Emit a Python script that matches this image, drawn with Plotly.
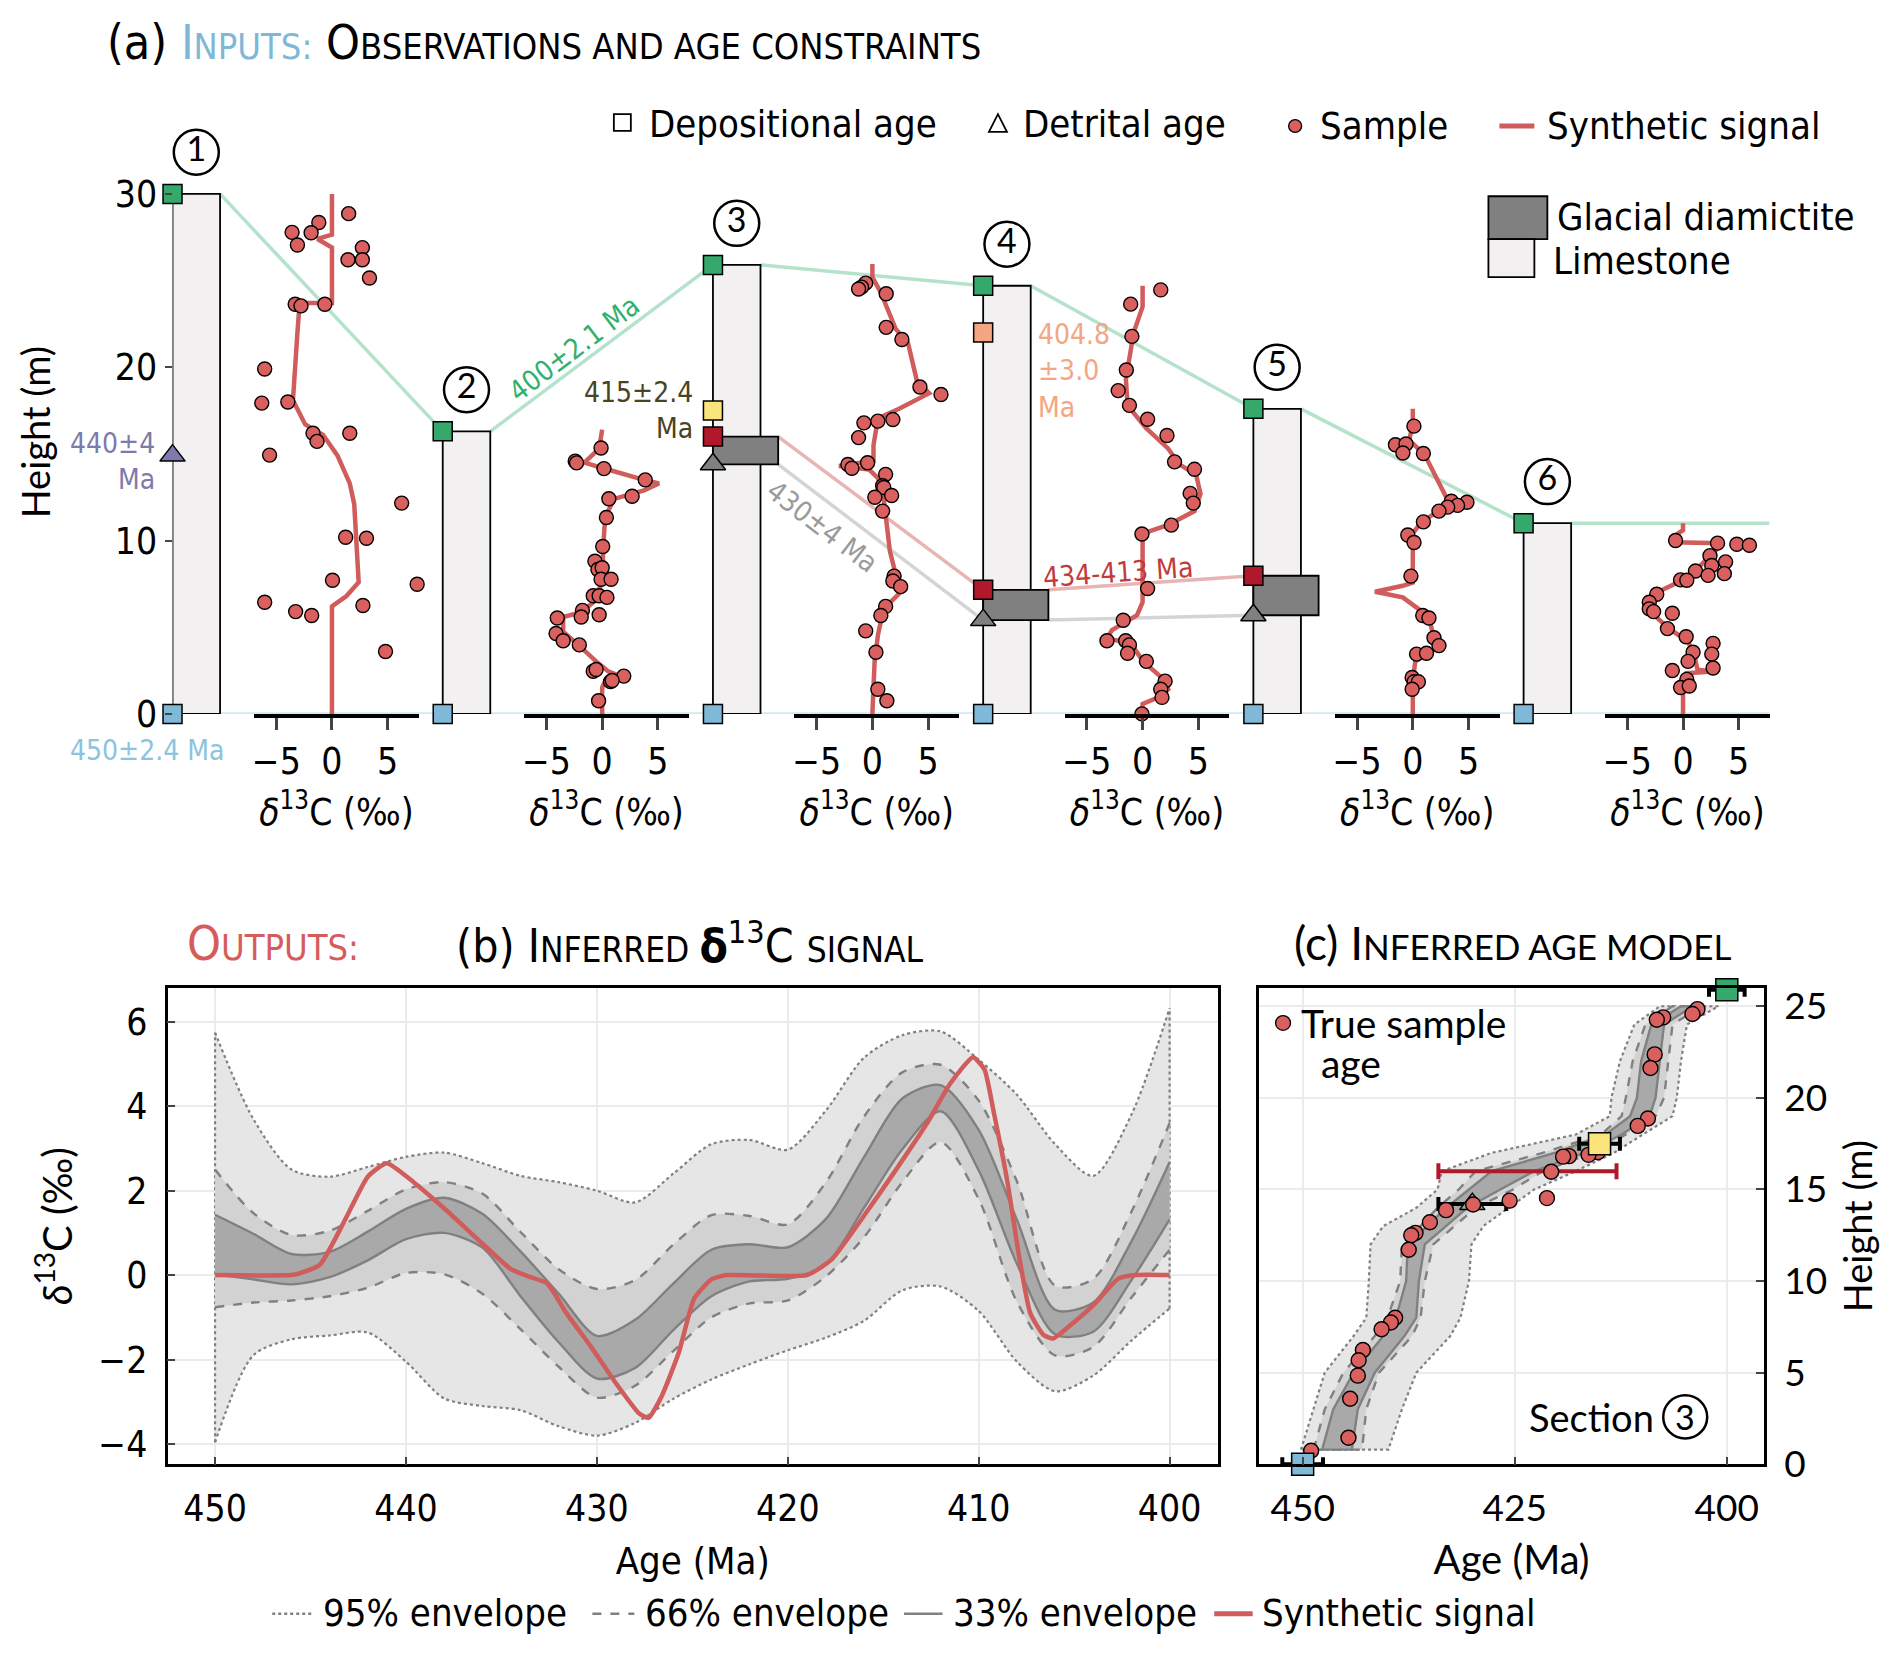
import plotly.graph_objects as go

W, H = 1892, 1676
COND = "'Liberation Sans Narrow', 'DejaVu Sans Condensed', 'DejaVu Sans', sans-serif"
WIDE = "Lato, 'Open Sans', sans-serif"

RED = '#d05c5c'
DOT = '#d9605e'
GREEN = '#35a86b'
BLUE = '#80b9d8'
YELLOW = '#fbe47c'
ORANGE = '#f4a582'
DARKRED = '#b2182b'
PURPLE = '#7e7aab'
GTRI = '#808080'

# ---------------- panel (a) data ----------------
section_tops = [30.0, 16.3, 25.9, 24.7, 17.6, 11.0]
diam_sections = [2, 3, 4]
diam_bottom = [14.4, 5.41, 5.69]
diam_top = [16.0, 7.16, 7.97]
yellow_section, yellow_h = 2, 17.5
orange_section, orange_h = 3, 22.0
purple_section, purple_h = 0, 14.9

s1_h = [28.86, 28.35, 27.78, 27.76, 27.05, 26.9, 26.2, 26.2, 25.15, 23.63, 23.54, 23.63, 19.9, 17.93, 17.99, 16.19, 15.72, 16.19, 14.93, 12.16, 10.19, 10.13, 7.71, 7.48, 6.44, 5.9, 5.68, 6.25, 3.6]
s1_d = [1.5, -1.18, -3.58, -1.87, -3.1, 2.73, 1.44, 2.73, 3.37, -3.3, -2.78, -0.64, -6.04, -6.3, -3.96, -1.7, -1.34, 1.6, -5.6, 6.26, 1.23, 3.1, 0.05, 7.65, -6.04, -3.26, -1.82, 2.78, 4.81]
g1_h = [0, 6.2, 6.8, 7.6, 12.1, 13.3, 14.9, 16.1, 16.7, 18.1, 22.0, 23.7, 23.7, 26.9, 27.4, 27.65, 30.0]
g1_d = [0, 0, 1.3, 2.4, 2.0, 1.6, 0.5, -0.8, -2.4, -3.5, -3.1, -2.9, 0, 0, -1.3, 0, 0]

s2_h = [15.34, 14.58, 14.48, 14.15, 13.5, 12.56, 12.41, 11.33, 9.66, 8.81, 8.33, 8.43, 7.77, 7.77, 6.82, 6.82, 6.72, 5.97, 5.59, 5.53, 5.72, 4.64, 4.22, 3.98, 2.46, 2.56, 2.18, 1.86, 1.93, 0.76]
s2_d = [-0.1, -2.42, -2.3, 0.16, 3.87, 2.69, 0.6, 0.38, 0.05, -0.65, -0.38, 0.0, -0.1, 0.8, -0.8, -0.27, 0.43, -1.77, -1.88, -4.03, -0.27, -4.14, -3.5, -2.05, -0.8, -0.54, 1.94, 0.75, 0.9, -0.32]
g2_h = [0, 1.52, 1.89, 2.08, 2.46, 3.03, 3.98, 4.74, 5.59, 5.87, 6.44, 7.58, 9.66, 11.36, 12.4, 12.9, 13.3, 13.5, 14.1, 14.5, 15.3, 16.4]
g2_d = [0, 0, 0.27, 2.04, 0.54, -0.54, -2.15, -3.5, -3.5, -1.88, -0.8, 0, 0.1, 0.27, 1.08, 3.76, 5.1, 3.76, 0.5, -1.6, -0.27, 0]

s3_h = [24.85, 24.62, 24.51, 24.24, 22.3, 21.6, 18.86, 18.43, 16.79, 16.89, 16.98, 15.94, 14.39, 14.17, 14.49, 13.82, 13.16, 13.06, 12.6, 12.5, 11.7, 7.95, 7.67, 7.34, 6.2, 5.68, 4.79, 3.56, 1.42, 0.76]
s3_d = [-0.6, -0.97, -1.24, 1.24, 1.24, 2.65, 4.27, 6.16, -0.76, 0.49, 1.84, -1.24, -2.2, -1.84, -0.43, 1.19, 0.92, 1.03, 1.73, 0.22, 0.92, 1.95, 1.84, 2.54, 1.19, 0.76, -0.6, 0.32, 0.49, 1.3]
g3_h = [0, 3.03, 4.55, 6.06, 7.0, 7.95, 9.4, 12.5, 13.6, 14.1, 14.3, 14.6, 15.5, 17.05, 17.6, 18.5, 19.2, 21.4, 22.2, 24.3, 25.2, 25.95]
g3_d = [0, 0.2, 0.5, 1.0, 2.5, 2.1, 1.57, 1.0, 0.5, -0.3, -3.0, 0.1, 0.1, 0.5, 2.4, 5.1, 4.0, 3.2, 2.1, 0.76, 0, 0]

s4_h = [24.46, 23.64, 21.78, 19.84, 18.65, 17.8, 17.0, 16.06, 14.54, 14.11, 12.72, 12.16, 10.89, 10.38, 7.23, 5.4, 4.22, 4.22, 3.98, 3.5, 3.03, 1.89, 1.42, 0.95, 0.0]
s4_d = [1.63, -1.07, -0.96, -1.46, -2.19, -1.18, 0.45, 2.19, 2.87, 4.66, 4.27, 4.55, 2.58, -0.06, 0.45, -1.74, -3.2, -1.52, -1.18, -1.35, 0.34, 2.02, 1.63, 1.74, -0.06]
g4_h = [0, 0.57, 1.04, 1.42, 2.08, 3.03, 4.07, 4.35, 4.83, 5.7, 6.44, 10.4, 10.9, 11.7, 12.7, 13.8, 14.4, 15.3, 16.5, 17.8, 19.3, 22.0, 23.49, 24.7]
g4_d = [0, 0, 1.74, 2.3, 1.74, 0.06, -1.07, -3.2, -2.75, -0.5, 0, 0, 2.3, 4.66, 5.2, 4.8, 3.3, 2.3, 0.3, -1.35, -1.5, -0.8, 0, 0]

s5_h = [16.6, 15.53, 15.57, 15.05, 15.02, 12.27, 12.21, 12.03, 11.93, 11.7, 11.08, 10.32, 9.89, 7.95, 5.68, 5.53, 4.39, 3.94, 3.45, 3.5, 2.1, 1.85, 1.85, 1.42]
s5_d = [0.1, -1.56, -0.61, -0.89, 0.95, 3.46, 4.86, 4.02, 3.13, 2.35, 0.95, -0.45, 0.11, -0.17, 0.89, 1.45, 1.9, 2.35, 0.34, 1.23, -0.06, 0.11, 0.5, -0.06]
g5_h = [0, 1.89, 3.03, 3.5, 3.88, 4.36, 5.59, 6.06, 6.72, 7.05, 7.39, 7.58, 10.42, 11.08, 11.65, 12.12, 12.5, 14.96, 15.8, 16.67, 17.6]
g5_d = [0, 0, 0.22, 1.34, 2.35, 1.9, 1.45, 0.5, -0.9, -3.4, -0.9, 0, 0, 0.78, 2.18, 3.8, 3.0, 1.06, -0.33, 0, 0]

s6_h = [10.0, 9.85, 9.79, 9.73, 9.13, 8.77, 8.56, 8.24, 7.99, 8.09, 7.73, 7.71, 6.9, 6.44, 6.06, 5.9, 5.81, 4.92, 4.45, 4.07, 3.56, 3.45, 3.03, 2.5, 2.65, 1.99, 1.52, 1.61]
s6_d = [-0.67, 3.1, 4.83, 5.96, 2.42, 3.82, 2.58, 1.12, 2.25, 3.71, -0.22, 0.34, -2.36, -3.03, -3.03, -2.64, -0.96, -1.4, 0.28, 2.7, 0.9, 2.58, 0.45, -0.96, 2.7, 0.34, -0.22, 0.56]
g6_h = [0, 1.7, 2.35, 2.45, 2.55, 3.41, 4.17, 4.92, 5.87, 6.35, 7.0, 7.86, 9.47, 9.85, 9.9, 10.2, 10.6, 11.0]
g6_d = [0, 0, 0.3, 2.7, 1.3, 1.0, 0.45, -1.24, -2.9, -3.2, -2.36, 0.45, 3.0, 3.26, -0.8, -0.96, 0, 0]

samples_h = [s1_h, s2_h, s3_h, s4_h, s5_h, s6_h]
samples_d = [s1_d, s2_d, s3_d, s4_d, s5_d, s6_d]
signal_h = [g1_h, g2_h, g3_h, g4_h, g5_h, g6_h]
signal_d = [g1_d, g2_d, g3_d, g4_d, g5_d, g6_d]

# ---------------- panel (b) data ----------------
env_age = [450, 448, 446, 444, 442, 440, 438, 436, 434, 432, 430, 428, 426, 424, 422, 420, 418, 416, 414, 412, 410, 408, 406, 404, 402, 400]
env95_hi = [5.74, 3.7, 2.5, 2.33, 2.56, 2.8, 2.9, 2.65, 2.35, 2.2, 2.0, 1.72, 2.4, 3.1, 3.2, 2.97, 3.9, 5.15, 5.68, 5.77, 5.1, 4.27, 3.1, 2.35, 3.8, 6.32]
env95_lo = [-3.96, -1.9, -1.52, -1.43, -1.36, -2.05, -2.92, -3.1, -3.2, -3.58, -3.8, -3.5, -2.93, -2.47, -2.11, -1.78, -1.48, -1.08, -0.36, -0.27, -0.85, -2.05, -2.75, -2.38, -1.55, -0.79]
env66_hi = [2.5, 1.47, 0.95, 1.05, 1.52, 2.03, 2.2, 1.93, 1.02, 0.14, -0.33, -0.12, 0.72, 1.42, 1.4, 1.2, 2.2, 3.76, 4.8, 4.98, 4.13, 2.22, -0.25, -0.09, 1.5, 3.6]
env66_lo = [-0.76, -0.65, -0.6, -0.5, -0.3, 0.05, 0.02, -0.44, -1.28, -2.17, -2.9, -2.62, -1.8, -1.0, -0.67, -0.6, -0.03, 0.9, 2.2, 3.15, 1.8, -0.63, -1.9, -1.7, -0.53, 0.6]
env33_hi = [1.43, 0.98, 0.5, 0.55, 1.03, 1.57, 1.83, 1.45, 0.56, -0.44, -1.44, -1.06, -0.2, 0.6, 0.73, 0.66, 1.33, 2.8, 4.18, 4.5, 3.44, 1.31, -0.82, -0.65, 0.8, 2.68]
env33_lo = [0.02, -0.1, -0.22, -0.05, 0.35, 0.85, 1.0, 0.65, -0.5, -1.59, -2.45, -2.2, -1.3, -0.5, -0.15, -0.09, 0.25, 1.6, 2.98, 3.88, 2.48, 0.27, -1.4, -1.34, -0.12, 1.32]

synth_age = [450, 446, 445.5, 444.5, 443.2, 442, 441, 439.6, 437.8, 436.2, 434.5, 433.6, 432.6, 431.6, 430.3, 429.1, 427.8, 427.3, 426.6, 425.7, 424.9, 424, 423.2, 419, 417.7, 416, 414.4, 412.7, 411.5, 410.3, 409.7, 409.2, 408.5, 407.9, 407.3, 406.6, 406.1, 405.2, 403.9, 402.7, 401.8, 400]
synth_val = [0, 0, 0.05, 0.25, 1.3, 2.33, 2.65, 2.2, 1.5, 0.83, 0.14, -0.03, -0.2, -0.9, -1.7, -2.5, -3.27, -3.38, -2.86, -1.82, -0.55, -0.1, 0, 0, 0.37, 1.41, 2.45, 3.6, 4.53, 5.16, 4.87, 3.83, 2.22, 0.49, -0.9, -1.42, -1.5, -1.19, -0.67, -0.09, 0, 0]

# ---------------- panel (c) data ----------------
am_h = [0.8, 3, 5, 7, 8, 10, 12, 13, 14, 15, 16, 17, 18, 19, 20, 22, 24, 25]
am95_old = [450.2, 448.7, 447.4, 444.0, 442.5, 442.2, 442.0, 440.5, 436.6, 434.1, 433.6, 427.7, 417.8, 413.8, 413.6, 412.6, 410.9, 407.9]
am66_old = [448.7, 447.4, 445.2, 441.5, 440.0, 438.5, 438.3, 436.1, 434.1, 431.6, 429.6, 421.7, 414.8, 412.4, 411.9, 411.1, 409.6, 406.4]
am33_old = [447.7, 446.4, 444.0, 440.5, 439.0, 437.8, 437.6, 435.3, 433.1, 430.4, 427.7, 420.3, 414.3, 411.4, 410.6, 410.1, 408.9, 405.4]
am33_young = [444.2, 443.5, 441.5, 438.0, 436.6, 436.3, 435.6, 433.1, 430.6, 426.7, 422.7, 416.8, 412.4, 409.1, 408.4, 407.9, 407.4, 404.0]
am66_young = [443.0, 442.5, 441.0, 437.1, 436.1, 435.6, 434.6, 432.1, 429.6, 425.2, 421.7, 415.8, 411.9, 408.4, 407.4, 406.9, 406.4, 403.0]
am95_young = [439.9, 438.3, 436.6, 432.6, 431.4, 430.4, 430.1, 428.7, 425.7, 422.7, 417.8, 413.3, 409.9, 406.4, 405.9, 405.4, 404.7, 401.0]

true_age = [403.46, 404.05, 407.5, 408.25, 408.5, 409.0, 409.3, 410.5, 415.2, 416.3, 418.6, 419.3, 420.7, 421.2, 425.6, 429.9, 433.1, 435.0, 436.7, 437.2, 437.5, 439.1, 439.6, 440.7, 442.9, 443.4, 443.5, 444.4, 444.6, 449.0]
true_h = [24.84, 24.58, 24.39, 24.26, 22.37, 21.63, 18.87, 18.47, 17.03, 16.89, 16.82, 16.79, 15.97, 14.53, 14.39, 14.18, 13.87, 13.21, 12.63, 12.5, 11.71, 8.0, 7.74, 7.37, 6.24, 5.68, 4.84, 3.58, 1.45, 0.74]

dep_age = [450, 415, 400]
dep_sig = [2.4, 2.4, 2.1]
dep_h = [0.0, 17.5, 25.9]
dep_col = [BLUE, YELLOW, GREEN]
det_age, det_sig, det_h = [430], [4], [14.2]
rng_old, rng_young, rng_h = [434], [413], [16.0]

# ---------------- layout helpers ----------------
def fx(a):
    return a / W

def fy(a):
    return 1 - a / H

COL0 = 170.7           # px of first column's left edge
SEC = 270.5            # px per section
cw = 47.6 / SEC        # column width (section units)
dw = 65.3 / SEC        # diamictite width
X_END = (1769.5 - COL0) / SEC
Y0, PXM = 720.5, 17.617   # px of height 0, px per metre
Y_TOP = 32.5
D0, PXD = 330.3, 11.15    # px of delta=0 in section 1, px per permil
D_LO, D_HI = -7.0, 7.8

fig = go.Figure()
base = dict(hoverinfo='skip', showlegend=False, cliponaxis=False)

# correlation lines
gx, gy, bx, by = [], [], [], []
for i in range(6):
    nx = i + 1 if i < 5 else X_END
    ny = section_tops[i + 1] if i < 5 else section_tops[i]
    gx += [i + cw, nx, None]
    gy += [section_tops[i], ny, None]
    bx += [i + cw, nx, None]
    by += [0, 0, None]
fig.add_trace(go.Scatter(x=bx, y=by, mode='lines', line=dict(color='#d3e8f2', width=3.5), xaxis='x', yaxis='y', **base))
fig.add_trace(go.Scatter(x=gx, y=gy, mode='lines', line=dict(color='#b4e2cb', width=3.5), xaxis='x', yaxis='y', **base))
rx, ry, kx, ky = [], [], [], []
for k in range(2):
    s = diam_sections[k]
    rx += [s + dw, diam_sections[k + 1], None]
    ry += [diam_top[k], diam_top[k + 1], None]
    kx += [s + dw, diam_sections[k + 1], None]
    ky += [diam_bottom[k], diam_bottom[k + 1], None]
fig.add_trace(go.Scatter(x=rx, y=ry, mode='lines', line=dict(color='#e8b5b5', width=3.5), xaxis='x', yaxis='y', **base))
fig.add_trace(go.Scatter(x=kx, y=ky, mode='lines', line=dict(color='#d4d4d4', width=3.5), xaxis='x', yaxis='y', **base))

# columns
for i in range(6):
    fig.add_trace(go.Scatter(x=[i, i + cw, i + cw, i, i], y=[0, 0, section_tops[i], section_tops[i], 0],
                             mode='lines', fill='toself', fillcolor='#f2f0f0',
                             line=dict(color='black', width=1.8), xaxis='x', yaxis='y', **base))
for k in range(3):
    s = diam_sections[k]
    fig.add_trace(go.Scatter(x=[s, s + dw, s + dw, s, s], y=[diam_bottom[k], diam_bottom[k], diam_top[k], diam_top[k], diam_bottom[k]],
                             mode='lines', fill='toself', fillcolor='#808080',
                             line=dict(color='black', width=1.8), xaxis='x', yaxis='y', **base))

def sq(xs, ys, color, sym='square', size=19):
    fig.add_trace(go.Scatter(x=xs, y=ys, mode='markers', xaxis='x', yaxis='y',
                             marker=dict(symbol=sym, size=size, color=color, line=dict(color='black', width=1.5)), **base))

sq(list(range(6)), [0] * 6, BLUE)
sq(list(range(6)), section_tops, GREEN)
sq([yellow_section], [yellow_h], YELLOW)
sq([orange_section], [orange_h], ORANGE)
sq(diam_sections, diam_top, DARKRED)
sq(diam_sections, diam_bottom, GTRI, 'triangle-up', 22)
sq([purple_section], [purple_h], PURPLE, 'triangle-up', 22)

# section numbers
fig.add_trace(go.Scatter(x=[i + cw / 2 for i in range(6)], y=[t + 2.4 for t in section_tops],
                         mode='markers+text', text=[str(i + 1) for i in range(6)], textposition='middle center',
                         textfont=dict(family=WIDE, size=34, color='black'),
                         marker=dict(symbol='circle', size=45, color='white', line=dict(color='black', width=2.5)),
                         xaxis='x', yaxis='y', **base))

# signals
for i in range(6):
    ax = 'x%d' % (i + 2)
    fig.add_trace(go.Scatter(x=signal_d[i], y=signal_h[i], mode='lines', line=dict(color=RED, width=4.5),
                             xaxis=ax, yaxis='y', **base))
    fig.add_trace(go.Scatter(x=samples_d[i], y=samples_h[i], mode='markers',
                             marker=dict(size=14, color=DOT, line=dict(color='black', width=1.4)),
                             xaxis=ax, yaxis='y', **base))

# ---------------- panel (b) ----------------
GL = '#808080'
def band(lo, hi, fillc, dash, width):
    fig.add_trace(go.Scatter(x=env_age, y=lo, mode='lines', line=dict(color=GL, width=width, dash=dash, shape='spline', smoothing=0.8),
                             xaxis='x8', yaxis='y8', hoverinfo='skip', showlegend=False))
    fig.add_trace(go.Scatter(x=env_age, y=hi, mode='lines', fill='tonexty', fillcolor=fillc,
                             line=dict(color=GL, width=width, dash=dash, shape='spline', smoothing=0.8),
                             xaxis='x8', yaxis='y8', hoverinfo='skip', showlegend=False))

band(env95_lo, env95_hi, '#e6e6e6', 'dot', 2.2)
for a, lo, hi in [(env_age[0], env95_lo[0], env95_hi[0]), (env_age[-1], env95_lo[-1], env95_hi[-1])]:
    fig.add_trace(go.Scatter(x=[a, a], y=[lo, hi], mode='lines', line=dict(color=GL, width=2.2, dash='dot'),
                             xaxis='x8', yaxis='y8', hoverinfo='skip', showlegend=False))
band(env66_lo, env66_hi, '#d2d2d2', 'dash', 2.4)
band(env33_lo, env33_hi, '#a9a9a9', 'solid', 2.4)
fig.add_trace(go.Scatter(x=synth_age, y=synth_val, mode='lines', line=dict(color=RED, width=4.5, shape='spline', smoothing=0.5),
                         xaxis='x8', yaxis='y8', hoverinfo='skip', showlegend=False))

# ---------------- panel (c) ----------------
def cband(old, young, fillc, dash, width):
    xs = old + young[::-1] + [old[0]]
    ys = am_h + am_h[::-1] + [am_h[0]]
    fig.add_trace(go.Scatter(x=xs, y=ys, mode='lines', fill='toself', fillcolor=fillc,
                             line=dict(color=GL, width=width, dash=dash),
                             xaxis='x9', yaxis='y9', hoverinfo='skip', showlegend=False))

cband(am95_old, am95_young, '#e6e6e6', 'dot', 2.2)
cband(am66_old, am66_young, '#d2d2d2', 'dash', 2.4)
cband(am33_old, am33_young, '#a9a9a9', 'solid', 2.4)

fig.add_trace(go.Scatter(x=[(a + b) / 2 for a, b in zip(rng_old, rng_young)], y=rng_h, mode='markers',
                         marker=dict(size=2, opacity=0),
                         error_x=dict(type='data', array=[(a - b) / 2 for a, b in zip(rng_old, rng_young)], color=DARKRED, thickness=4, width=8),
                         xaxis='x9', yaxis='y9', **base))
fig.add_trace(go.Scatter(x=det_age, y=det_h, mode='markers',
                         marker=dict(symbol='triangle-up', size=22, color='#a0a0a0', line=dict(color='black', width=1.5)),
                         error_x=dict(type='data', array=det_sig, color='black', thickness=4, width=7),
                         xaxis='x9', yaxis='y9', **base))
fig.add_trace(go.Scatter(x=true_age, y=true_h, mode='markers',
                         marker=dict(size=15, color=DOT, line=dict(color='black', width=1.4)),
                         xaxis='x9', yaxis='y9', **base))
for a, s, h, c in zip(dep_age, dep_sig, dep_h, dep_col):
    fig.add_trace(go.Scatter(x=[a], y=[h], mode='markers',
                             marker=dict(symbol='square', size=22, color=c, line=dict(color='black', width=1.5)),
                             error_x=dict(type='data', array=[s], color='black', thickness=4, width=7),
                             xaxis='x9', yaxis='y9', **base))

# ---------------- axes ----------------
lay = dict(
    width=W, height=H, margin=dict(l=0, r=0, t=0, b=0),
    paper_bgcolor='white', plot_bgcolor='rgba(0,0,0,0)', showlegend=False,
    font=dict(family=COND, size=37, color='black'),
)
lay['xaxis'] = dict(domain=[fx(COL0), fx(1769.5)], range=[0, X_END], visible=False, anchor='y', fixedrange=True)
lay['yaxis'] = dict(domain=[fy(Y0), fy(Y0 - Y_TOP * PXM)], range=[0, Y_TOP], anchor='x', tickvals=[0, 10, 20, 30], ticks='outside',
                    ticklen=7, tickwidth=2, showline=False, showgrid=False, zeroline=False,
                    tickfont=dict(family=COND, size=37),
                    title=dict(text='Height (m)', font=dict(family=WIDE, size=38), standoff=52))
for i in range(6):
    zero = D0 + SEC * i
    lay['xaxis%d' % (i + 2)] = dict(domain=[fx(zero + D_LO * PXD), fx(zero + D_HI * PXD)], range=[D_LO, D_HI], anchor='y',
                                    tickvals=[-5, 0, 5], ticks='outside', ticklen=12, tickwidth=2.5,
                                    showline=True, linewidth=3.5, linecolor='black', showgrid=False, zeroline=False,
                                    tickfont=dict(family=COND, size=37),
                                    title=dict(text='<i>δ</i><sup>13</sup>C (‰)', font=dict(family=COND, size=37), standoff=18))
ydom_bc = [fy(1483.2), fy(999)]
common = dict(ticks='inside', ticklen=8, tickwidth=2, showline=True, mirror=True, linewidth=2.5, linecolor='black',
              showgrid=True, gridcolor='#ebebeb', gridwidth=1.5, zeroline=False, ticklabelstandoff=10)
lay['xaxis8'] = dict(domain=[fx(165.7), fx(1217.2)], range=[452.49, 397.47], anchor='y8',
                     tickvals=[450, 440, 430, 420, 410, 400], tickfont=dict(family=COND, size=37),
                     title=dict(text='Age (Ma)', font=dict(family=COND, size=38), standoff=18), **common)
lay['yaxis8'] = dict(domain=ydom_bc, range=[-4.48, 6.80], anchor='x8',
                     tickvals=[-4, -2, 0, 2, 4, 6], tickfont=dict(family=COND, size=37),
                     title=dict(text='<i>δ</i><sup>13</sup>C (‰)', font=dict(family=WIDE, size=40), standoff=14), **common)
lay['xaxis9'] = dict(domain=[fx(1258.3), fx(1764)], range=[455.15, 395.6], anchor='y9',
                     tickvals=[450, 425, 400], tickfont=dict(family=WIDE, size=37),
                     title=dict(text='Age (Ma)', font=dict(family=WIDE, size=40), standoff=18), **common)
lay['yaxis9'] = dict(domain=ydom_bc, range=[0, 26.0], anchor='x9', side='right',
                     tickvals=[0, 5, 10, 15, 20, 25], tickfont=dict(family=WIDE, size=37),
                     title=dict(text='Height (m)', font=dict(family=WIDE, size=38), standoff=20), **common)
fig.update_layout(**lay)

# ---------------- annotations ----------------
ann = []
def sc(big, small, color=None, bs=48, ss=36):
    c = ('color:%s;' % color) if color else ''
    return '<span style="%sfont-size:%dpx">%s</span><span style="%sfont-size:%dpx">%s</span>' % (c, bs, big, c, ss, small)

title_a = '<span style="font-size:48px">(a) </span>' + sc('I', 'NPUTS:', '#7fb7d6') + '<span style="font-size:48px"> </span>' + sc('O', 'BSERVATIONS AND AGE CONSTRAINTS')
ann.append(dict(text=title_a, x=fx(103), y=fy(38), xref='paper', yref='paper', xanchor='left', yanchor='middle', showarrow=False, font=dict(family=COND, size=48)))
ann.append(dict(text=sc('O', 'UTPUTS:', '#d65c5c'), x=fx(183), y=fy(953), xref='paper', yref='paper', xanchor='left', yanchor='middle', showarrow=False, font=dict(family=COND, size=48)))
title_b = '<span style="font-size:46px">(b) </span>' + sc('I', 'NFERRED ', None, 46, 35) + '<span style="font-size:46px"><b>δ</b><sup>13</sup>C </span>' + '<span style="font-size:35px">SIGNAL</span>'
ann.append(dict(text=title_b, x=fx(452), y=fy(953), xref='paper', yref='paper', xanchor='left', yanchor='middle', showarrow=False, font=dict(family=COND, size=46)))
title_c = '<span style="font-size:46px">(c) </span>' + sc('I', 'NFERRED AGE MODEL', None, 46, 35)
ann.append(dict(text=title_c, x=fx(1291), y=fy(953), xref='paper', yref='paper', xanchor='left', yanchor='middle', showarrow=False, font=dict(family=WIDE, size=46)))

def dann(text, x, y, color, size=28, angle=0, xanchor='center', align='center', family=COND):
    ann.append(dict(text=text, x=x, y=y, xref='x', yref='y', showarrow=False, textangle=angle, xanchor=xanchor, align=align,
                    font=dict(family=family, size=size, color=color)))

dann('400±2.1 Ma', 1.487, 21.08, '#33b06c', angle=-37)
dann('430±4 Ma', 2.403, 10.79, '#9a9a9a', angle=37.5)
dann('434-413 Ma', 3.498, 8.18, '#c23b3b', angle=-4)
dann('415±2.4<br>Ma', 1.933, 17.5, '#4a4422', xanchor='right', align='right')
dann('404.8<br>±3.0<br>Ma', 3.194, 19.78, ORANGE, xanchor='left', align='left')

def pann(text, x, y, size=38, family=COND, xanchor='left', color='black', align='left'):
    ann.append(dict(text=text, x=fx(x), y=fy(y), xref='paper', yref='paper', xanchor=xanchor, yanchor='middle', showarrow=False,
                    align=align, font=dict(family=family, size=size, color=color)))

pann('440±4<br>Ma', 155, 464, size=28, xanchor='right', color=PURPLE, align='right')
pann('450±2.4 Ma', 224, 758, size=28, xanchor='right', color='#8cc3de')
pann('Depositional age', 646, 121)
pann('Detrital age', 1020, 121)
pann('Sample', 1317, 123)
pann('Synthetic signal', 1545, 123)
pann('Glacial diamictite', 1555, 215)
pann('Limestone', 1551, 260)
pann('95% envelope', 319, 1634)
pann('66% envelope', 642, 1634)
pann('33% envelope', 950, 1634)
pann('Synthetic signal', 1259, 1634)
pann('True sample', 1298, 1035, size=39, family=WIDE)
pann('\u00a0\u00a0age', 1298, 1075, size=39, family=WIDE)
pann('Section', 1527, 1435, size=38, family=WIDE)
pann('3', 1685, 1435, size=34, family=WIDE, xanchor='center')
fig.update_layout(annotations=ann)

# ---------------- legend glyphs (shapes) ----------------
shapes = []
def prect(x0, y0, x1, y1, fill, lw=1.8):
    shapes.append(dict(type='rect', xref='paper', yref='paper', x0=fx(x0), x1=fx(x1), y0=fy(y1), y1=fy(y0),
                       fillcolor=fill, line=dict(color='black', width=lw)))
def pline(x0, x1, y, color, dash='solid', width=3):
    shapes.append(dict(type='line', xref='paper', yref='paper', x0=fx(x0), x1=fx(x1), y0=fy(y), y1=fy(y),
                       line=dict(color=color, width=width, dash=dash)))
def pcircle(cx, cy, r, fill, lw):
    shapes.append(dict(type='circle', xref='paper', yref='paper', x0=fx(cx - r), x1=fx(cx + r), y0=fy(cy + r), y1=fy(cy - r),
                       fillcolor=fill, line=dict(color='black', width=lw)))

prect(612.5, 111, 629.5, 128, 'white', 1.8)
shapes.append(dict(type='path', xref='paper', yref='paper',
                   path='M %f %f L %f %f L %f %f Z' % (fx(988), fy(129), fx(1006), fy(129), fx(997), fy(111)),
                   fillcolor='white', line=dict(color='black', width=1.8)))
pcircle(1294.5, 123, 6.5, DOT, 1.3)
pline(1499, 1534, 123, RED, width=5)
prect(1488, 194.4, 1547, 238, '#808080')
prect(1488, 238, 1534, 276.6, '#f2f0f0')
pline(270.5, 310.4, 1635, GL, 'dot', 2.5)
pline(591, 633, 1635, GL, 'dash', 2.5)
pline(903, 941.5, 1635, GL, 'solid', 2.5)
pline(1213.5, 1252, 1635, RED, 'solid', 5)
pcircle(1282.4, 1034.6, 7.5, DOT, 1.3)
pcircle(1685, 1435, 22, 'rgba(0,0,0,0)', 2.5)
fig.update_layout(shapes=shapes)

fig.write_html('out.html', config={'displayModeBar': False, 'staticPlot': False},
               post_script="document.body.style.margin='0px';document.body.style.padding='0px';document.documentElement.style.overflow='hidden';")
